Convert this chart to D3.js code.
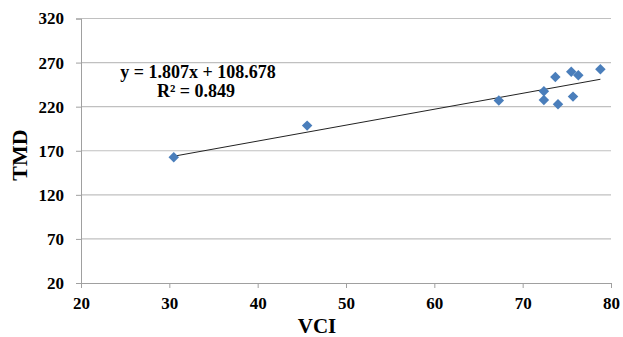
<!DOCTYPE html>
<html>
<head>
<meta charset="utf-8">
<script src="https://cdn.jsdelivr.net/npm/d3@7"></script>
<style>
  body { margin: 0; background: #fff; }
  text { font-family: "Liberation Serif", "Times New Roman", serif; font-weight: bold; }
</style>
</head>
<body>
<script>
const vci = [30.5, 45.6, 67.3, 72.4, 72.4, 73.7, 74.0, 75.5, 75.7, 76.3, 78.8];
const tmd = [162.7, 198.5, 226.9, 237.5, 227.6, 253.7, 222.8, 259.7, 231.4, 255.6, 262.4];
const xTicks = [20, 30, 40, 50, 60, 70, 80];
const yTicks = [20, 70, 120, 170, 220, 270, 320];
const slope = 1.807, intercept = 108.678;

const w = 623, h = 337;
const m = { top: 18.5, right: 12, bottom: 54, left: 81 };

const svg = d3.select('body').append('svg')
    .attr('width', w)
    .attr('height', h);

const x = d3.scaleLinear().domain([20, 80]).range([m.left, w - m.right]);
const y = d3.scaleLinear().domain([20, 320]).range([h - m.bottom, m.top]);

// gridlines
svg.append('g')
    .selectAll('line')
    .data(yTicks.slice(1))
    .join('line')
    .attr('x1', x(20)).attr('x2', x(80))
    .attr('y1', d => y(d)).attr('y2', d => y(d))
    .attr('stroke', '#c0c0c0')
    .attr('stroke-width', 1.2);

// y axis
const yAxis = svg.append('g')
    .attr('transform', `translate(${x(20)},0)`)
    .call(d3.axisLeft(y).tickValues(yTicks).tickSize(5).tickPadding(12));
yAxis.select('.domain').attr('stroke', '#a0a0a0');
yAxis.selectAll('.tick line').attr('stroke', '#a0a0a0');
yAxis.selectAll('text').attr('font-size', 17).attr('fill', '#000')
    .style('font-family', '"Liberation Serif", serif').style('font-weight', 'bold');

// x axis
const xAxis = svg.append('g')
    .attr('transform', `translate(0,${y(20)})`)
    .call(d3.axisBottom(x).tickValues(xTicks).tickSize(5).tickPadding(9));
xAxis.select('.domain').attr('stroke', '#a0a0a0');
xAxis.selectAll('.tick line').attr('stroke', '#a0a0a0');
xAxis.selectAll('text').attr('font-size', 17).attr('fill', '#000')
    .style('font-family', '"Liberation Serif", serif').style('font-weight', 'bold');

// trend line
const x0 = d3.min(vci), x1 = d3.max(vci);
svg.append('line')
    .attr('x1', x(x0)).attr('y1', y(slope * x0 + intercept))
    .attr('x2', x(x1)).attr('y2', y(slope * x1 + intercept))
    .attr('stroke', '#222')
    .attr('stroke-width', 1);

// points
svg.append('g')
    .selectAll('path')
    .data(vci.map((d, i) => [d, tmd[i]]))
    .join('path')
    .attr('d', d3.symbol(d3.symbolDiamond2, 70))
    .attr('transform', d => `translate(${x(d[0])},${y(d[1])})`)
    .attr('fill', '#4a7ebb');

// equation
svg.append('text')
    .attr('x', 198).attr('y', 78)
    .attr('text-anchor', 'middle')
    .attr('font-size', 18)
    .text('y = 1.807x + 108.678');
svg.append('text')
    .attr('x', 196).attr('y', 97)
    .attr('text-anchor', 'middle')
    .attr('font-size', 18)
    .text('R² = 0.849');

// axis titles
svg.append('text')
    .attr('x', 317).attr('y', 333)
    .attr('text-anchor', 'middle')
    .attr('font-size', 21)
    .text('VCI');
svg.append('text')
    .attr('transform', 'translate(27,155) rotate(-90)')
    .attr('text-anchor', 'middle')
    .attr('font-size', 22)
    .text('TMD');
</script>
</body>
</html>
